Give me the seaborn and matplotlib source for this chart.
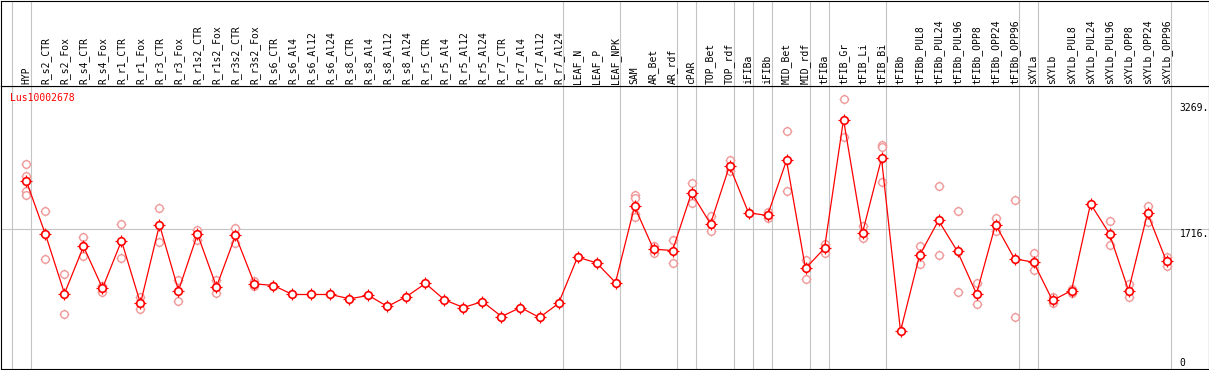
import matplotlib
matplotlib.use("Agg")
import matplotlib.pyplot as plt
import numpy as np
import pandas as pd
import seaborn as sns

labels = ["HYP", "R_s2_CTR", "R_s2_Fox", "R_s4_CTR", "R_s4_Fox", "R_r1_CTR", "R_r1_Fox",
          "R_r3_CTR", "R_r3_Fox", "R_r1s2_CTR", "R_r1s2_Fox", "R_r3s2_CTR", "R_r3s2_Fox",
          "R_s6_CTR", "R_s6_Al4", "R_s6_Al12", "R_s6_Al24", "R_s8_CTR", "R_s8_Al4",
          "R_s8_Al12", "R_s8_Al24", "R_r5_CTR", "R_r5_Al4", "R_r5_Al12", "R_r5_Al24",
          "R_r7_CTR", "R_r7_Al4", "R_r7_Al12", "R_r7_Al24", "LEAF_N", "LEAF_P", "LEAF_NPK",
          "SAM", "AR_Bet", "AR_rdf", "cPAR", "TOP_Bet", "TOP_rdf", "iFIBa", "iFIBb",
          "MID_Bet", "MID_rdf", "tFIBa", "tFIB_Gr", "tFIB_Li", "tFIB_Bi", "tFIBb",
          "tFIBb_PUL8", "tFIBb_PUL24", "tFIBb_PUL96", "tFIBb_OPP8", "tFIBb_OPP24",
          "tFIBb_OPP96", "sXYLa", "sXYLb", "sXYLb_PUL8", "sXYLb_PUL24", "sXYLb_PUL96",
          "sXYLb_OPP8", "sXYLb_OPP24", "sXYLb_OPP96"]

means = [2300, 1645, 916, 1497, 982, 1567, 793, 1765, 953, 1649, 999, 1633, 1036,
         1015, 904, 904, 904, 851, 892, 756, 879, 1040, 838, 743, 817, 632, 743, 620, 793,
         1365, 1295, 1052, 1991, 1464, 1447, 2160, 1777, 2493, 1913, 1880, 2559, 1225,
         1476, 3065, 1666, 2584, 451, 1386, 1818, 1435, 912, 1768, 1345, 1303, 830, 953,
         2024, 1653, 953, 1908, 1312]

reps = [[2510, 2365, 2188, 2127], [1929, 1345], [1160, 666], [1620, 1382], [1005, 934],
        [1777, 1357], [871, 723], [1975, 1555], [1077, 826], [1703, 1575], [1077, 925],
        [1723, 1538], [1068, 1007],
        [], [], [], [], [], [], [], [], [], [], [], [], [], [], [], [], [], [], [],
        [2127, 2098, 1900, 1859], [1509, 1414], [1583, 1295], [2275, 2036], [1871, 1691],
        [2563, 2435], [], [1921, 1846], [2917, 2185], [1336, 1098], [1530, 1419],
        [3321, 2847], [1756, 1604], [2753, 2720, 2296], [],
        [1497, 1275], [2246, 1386], [1941, 929], [1040, 789], [1846, 1686], [2065, 628],
        [1414, 1209], [871, 797], [974, 925], [], [1806, 1521], [1036, 871], [2003, 1797],
        [1365, 1250]]

# group separators sit just right of these columns
group_ends = [-1, 0, 28, 31, 34, 35, 37, 38, 39, 41, 42, 45, 52, 53, 60]
yticks = [0, 1716, 3269]
ytick_text = ["0", "1716.", "3269."]
gene = "Lus10002678"

sns.set_style("white")
plt.rcParams["font.family"] = ["DejaVu Sans Mono"]

mean_df = pd.DataFrame({"x": np.arange(len(labels)), "value": means})
rep_df = pd.DataFrame([(i, v) for i, r in enumerate(reps) for v in r], columns=["x", "value"])

W, H = 1209, 370
fig = plt.figure(figsize=(W / 100, H / 100), dpi=100)
ax = fig.add_axes([0.5 / W, 1.5 / H, 1208 / W, 283 / H])
hx = fig.add_axes([0.5 / W, 284.5 / H, 1208 / W, 85 / H])

xlim = (-1.368, 62.21)
for a in (ax, hx):
    a.set_xlim(*xlim)
    a.set_xticks([])
    a.set_yticks([])
    for s in a.spines.values():
        s.set_color("black")
        s.set_linewidth(0.8)
    for g in group_ends:
        a.axvline(g + 0.237, color="#c4c4c4", lw=0.8, zorder=0)

ax.set_ylim(-10, 3485)
hx.set_ylim(0, 85)
ax.axhline(1716, color="#c4c4c4", lw=0.8, zorder=0)

# replicates
sns.scatterplot(data=rep_df, x="x", y="value", marker="+", s=60, color="#f0a0a0",
                linewidth=0.8, ax=ax, zorder=2)
sns.scatterplot(data=rep_df, x="x", y="value", marker="o", s=30, color="white",
                edgecolor="#f09898", linewidth=1.0, ax=ax, zorder=3)

# means
sns.lineplot(data=mean_df, x="x", y="value", color="red", lw=0.9, ax=ax, zorder=4)
sns.scatterplot(data=mean_df, x="x", y="value", marker="+", s=64, color="red",
                linewidth=0.9, ax=ax, zorder=5)
sns.scatterplot(data=mean_df, x="x", y="value", marker="o", s=30, color="white",
                edgecolor="red", linewidth=1.2, ax=ax, zorder=6)
ax.set_xlabel("")
ax.set_ylabel("")

for i, lab in enumerate(labels):
    hx.text(i, 2, lab, rotation=90, ha="center", va="bottom", fontsize=7, color="black")

ax.text(-0.842, 3288, gene, ha="left", va="baseline", fontsize=7, color="red")
for v, t in zip(yticks, ytick_text):
    ax.text(60.68, v, t, ha="left", va="bottom" if v == 0 else "top",
            fontsize=7, color="black")

fig.savefig("out.png", dpi=100)
